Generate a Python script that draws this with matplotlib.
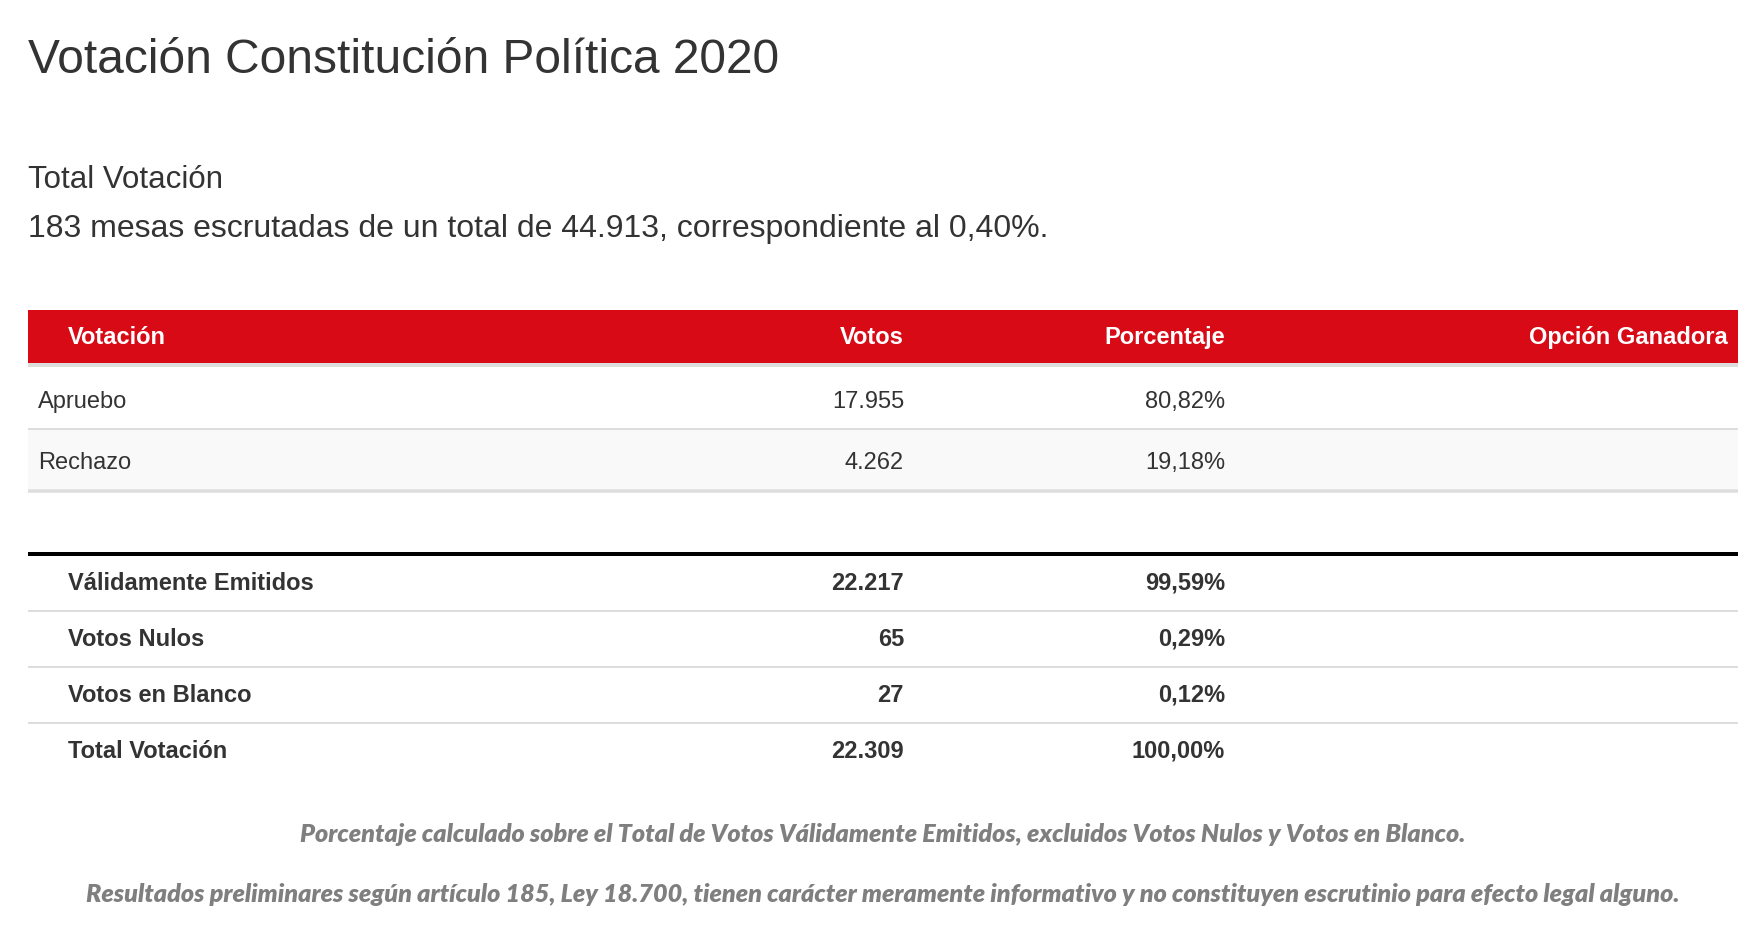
import matplotlib
matplotlib.use("Agg")
import matplotlib.pyplot as plt
from matplotlib.patches import Rectangle

# data
title = "Votación Constitución Política 2020"
subtitle = "Total Votación"
mesas_escrutadas = 183
mesas_total = 44913
mesas_pct = 0.40

header_labels = ["Votación", "Votos", "Porcentaje", "Opción Ganadora"]

option_labels = ["Apruebo", "Rechazo"]
option_votes = [17955, 4262]
option_pct = [80.82, 19.18]

summary_labels = ["Válidamente Emitidos", "Votos Nulos", "Votos en Blanco", "Total Votación"]
summary_votes = [22217, 65, 27, 22309]
summary_pct = [99.59, 0.29, 0.12, 100.00]

notes = [
    "Porcentaje calculado sobre el Total de Votos Válidamente Emitidos, excluidos Votos Nulos y Votos en Blanco.",
    "Resultados preliminares según artículo 185, Ley 18.700, tienen carácter meramente informativo y no constituyen escrutinio para efecto legal alguno.",
]

RED = "#d70a16"
TEXT = "#333333"
LINE = "#dddddd"
FONT = "Liberation Sans"


def fmt_int(v):
    return f"{v:,}".replace(",", ".")


def fmt_pct(v):
    return f"{v:.2f}".replace(".", ",") + "%"


fig = plt.figure(figsize=(17.5, 9.44), dpi=100)
ax = fig.add_axes([0, 0, 1, 1])
ax.set_xlim(0, 1750)
ax.set_ylim(944, 0)
ax.axis("off")

# px -> points for line widths
px = 72 / 100

left, right = 28, 1738
col_x = [68, 904, 1225, 1728]  # label left edge, then right edges

ax.text(left, 73, title, fontsize=34.5, color=TEXT, family=FONT, va="baseline")
ax.text(left, 188, subtitle, fontsize=22.5, color=TEXT, family=FONT, va="baseline")
ax.text(left, 237,
        f"{mesas_escrutadas} mesas escrutadas de un total de {fmt_int(mesas_total)}, "
        f"correspondiente al {fmt_pct(mesas_pct)[:-1]}%.",
        fontsize=23, color=TEXT, family=FONT, va="baseline")

# header bar
ax.add_patch(Rectangle((left, 310), right - left, 53, color=RED, lw=0))
ax.hlines(365, left, right, color=LINE, lw=4 * px)
for i, lab in enumerate(header_labels):
    ax.text(col_x[i], 337.5, lab, fontsize=17, color="white", weight="bold", family=FONT,
            ha="left" if i == 0 else "right", va="center")

# option rows
row_h = 61
y0 = 367
for i, lab in enumerate(option_labels):
    top = y0 + i * row_h
    bg = "white" if i % 2 == 0 else "#f9f9f9"
    ax.add_patch(Rectangle((left, top), right - left, row_h, color=bg, lw=0))
    yc = top + row_h / 2 + 4.5
    ax.text(38, yc, lab, fontsize=17, color=TEXT, family=FONT, va="center")
    ax.text(col_x[1], yc, fmt_int(option_votes[i]), fontsize=17, color=TEXT, family=FONT,
            ha="right", va="center")
    ax.text(col_x[2], yc, fmt_pct(option_pct[i]), fontsize=17, color=TEXT, family=FONT,
            ha="right", va="center")
    lw = 2 if i < len(option_labels) - 1 else 3.5
    ax.hlines(top + row_h + lw / 2, left, right, color=LINE, lw=lw * px)

# summary rows
ax.hlines(554, left, right, color="black", lw=4 * px)
s_h = 56
s0 = 555
for i, lab in enumerate(summary_labels):
    yc = s0 + i * s_h + 28
    ax.text(col_x[0], yc, lab, fontsize=17, color=TEXT, weight="bold", family=FONT, va="center")
    ax.text(col_x[1], yc, fmt_int(summary_votes[i]), fontsize=17, color=TEXT, weight="bold",
            family=FONT, ha="right", va="center")
    ax.text(col_x[2], yc, fmt_pct(summary_pct[i]), fontsize=17, color=TEXT, weight="bold",
            family=FONT, ha="right", va="center")
    if i < len(summary_labels) - 1:
        ax.hlines(s0 + (i + 1) * s_h, left, right, color=LINE, lw=2 * px)

# footnotes
for i, note in enumerate(notes):
    ax.text((left + right) / 2, 835 + i * 60, note, fontsize=18.1, color="#7f7f7f",
            family="Lato", style="italic", weight="heavy", ha="center", va="center")

fig.savefig("out.png", dpi=100)
